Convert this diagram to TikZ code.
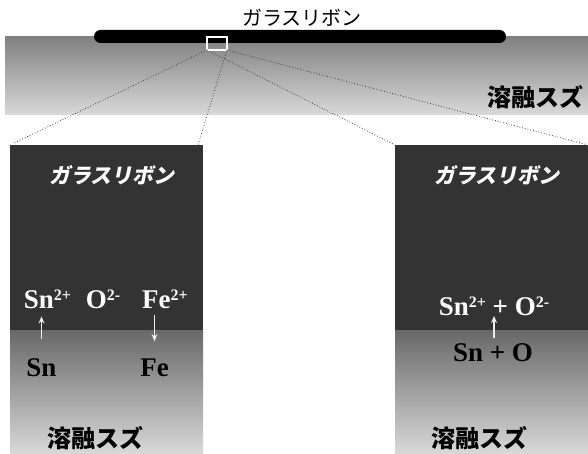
\documentclass[tikz,border=0pt]{standalone}
\usepackage{fontspec}
\setmainfont{Liberation Serif}
\newfontfamily\cjk{Noto Sans CJK JP}
\newfontfamily\cjks{Noto Sans CJK JP}[FakeSlant=0.2]
\usetikzlibrary{arrows.meta}
\definecolor{darkpanel}{HTML}{333333}
\definecolor{bandtop}{HTML}{808080}
\definecolor{bandbot}{HTML}{D9D9D9}
\definecolor{sntop}{HTML}{686868}
\definecolor{arrowcol}{HTML}{EEEEEE}
\newcommand\chsup[1]{\raisebox{8pt}{\fontsize{16}{16}\selectfont #1}}
\tikzset{
  blockbox/.style={inner sep=0pt, outer sep=0pt, anchor=north west},
  darkbox/.style={blockbox, fill=darkpanel, minimum width=193pt, minimum height=185pt},
  tinbox/.style={blockbox, top color=sntop, bottom color=bandbot, minimum width=193pt, minimum height=124pt},
  whitelbl/.style={text=white, font=\cjks\bfseries\fontsize{21}{21}\selectfont, inner sep=0pt},
  tinlbl/.style={text=black, font=\cjk\bfseries\fontsize{24}{24}\selectfont, inner sep=0pt},
  chemw/.style={text=white, font=\bfseries\fontsize{27}{27}\selectfont, inner sep=0pt, anchor=base},
  chemb/.style={text=black, font=\bfseries\fontsize{27}{27}\selectfont, inner sep=0pt, anchor=base},
  zoomline/.style={dotted, line width=0.8pt, draw=black!75},
  ionarrow/.style={draw=arrowcol, line width=1.6pt, -{Stealth[length=7pt,width=6pt]}},
}
\begin{document}
\begin{tikzpicture}[x=1pt,y=-1pt]
\useasboundingbox (0,0) rectangle (588,454);
% top band
\node[blockbox, top color=bandtop, bottom color=bandbot, minimum width=583pt, minimum height=78pt] (band) at (5,37) {};
\node[blockbox, fill=black, rounded corners=6.5pt, minimum width=412pt, minimum height=13pt] (ribbon) at (94,30) {};
\node[font=\cjk\fontsize{20}{20}\selectfont, inner sep=0pt] (title) at (302,18) {ガラスリボン};
\node[tinlbl] (bandlbl) at (535,97) {溶融スズ};
\node[blockbox, draw=white, line width=1.5pt, minimum width=20pt, minimum height=13pt] (zbox) at (207,37) {};
% left panel
\node[darkbox] (lglass) at (10,145) {};
\node[tinbox] (ltin) at (10,330) {};
\node[whitelbl] (lglasslbl) at (112,175) {ガラスリボン};
\node[chemw] (lsnion) at (47.5,308) {Sn\chsup{2+}};
\node[chemw] (loion) at (103,308) {O\chsup{2-}};
\node[chemw] (lfeion) at (165,308) {Fe\chsup{2+}};
\node[chemb] (lsn) at (41.5,376) {Sn};
\node[chemb] (lfe) at (154.5,376) {Fe};
\node[tinlbl] (ltinlbl) at (95,438) {溶融スズ};
% right panel
\node[darkbox] (rglass) at (395,145) {};
\node[tinbox] (rtin) at (395,330) {};
\node[whitelbl] (rglasslbl) at (497,175) {ガラスリボン};
\node[chemw] (rion) at (494,315) {Sn\chsup{2+} + O\chsup{2-}};
\node[chemb] (rneut) at (493,361) {Sn + O};
\node[tinlbl] (rtinlbl) at (479,438) {溶融スズ};
% arrows
\draw[ionarrow, shorten <=19pt, shorten >=8pt] (lsn.north) -- (lsn.north |- lsnion.south);
\draw[ionarrow, shorten <=6.5pt, shorten >=17pt] (lfe.north |- lfeion.south) -- (lfe.north);
\draw[ionarrow, shorten <=5pt, shorten >=0.5pt] ([xshift=1pt]rneut.north) -- ([xshift=1pt]rneut.north |- rion.south);
% zoom lines
\draw[zoomline, shorten >=4pt] (zbox.south west) -- (lglass.north west);
\draw[zoomline] (zbox.south east) -- ([xshift=-5pt]lglass.north east);
\draw[zoomline, shorten >=1pt] (zbox.south west) -- (rglass.north west);
\draw[zoomline, shorten >=2pt] (zbox.south east) -- (rglass.north east);
\end{tikzpicture}
\end{document}
